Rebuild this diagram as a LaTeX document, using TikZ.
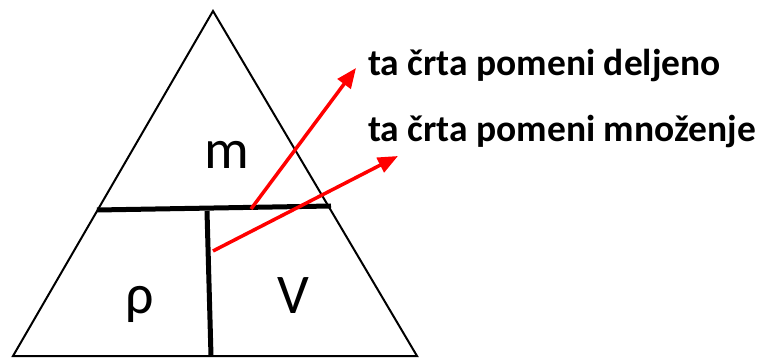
\documentclass[tikz,border=0pt]{standalone}
\usepackage{fontspec}
\setmainfont{Carlito}
\usetikzlibrary{arrows.meta}
\tikzset{
  tri/.style={line width=2pt, line join=miter},
  divider/.style={line width=5pt},
  pointer/.style={draw=red, line width=3.5pt, -{Triangle[length=20pt,width=16pt]}},
  sym/.style={font=\fontsize{56}{60}\selectfont, inner sep=0pt},
  note/.style={font=\fontsize{37.5}{42}\selectfont\bfseries, inner sep=0pt, anchor=base west}
}
\begin{document}
\begin{tikzpicture}[x=1pt,y=-1pt]
\useasboundingbox (0,0) rectangle (761,358);
\coordinate (top) at (213,11);
\coordinate (bl) at (13,356);
\coordinate (br) at (417,356);
\draw[tri] (top) -- (br) -- (bl) -- cycle;
\coordinate (hl) at (97,210);
\coordinate (hr) at (331,206);
\draw[divider] (hl) -- (hr);
\coordinate (vt) at (207,211);
\coordinate (vb) at (211,356);
\draw[divider] (vt) -- (vb);
\node[sym, anchor=base] (m) at (227,169) {m};
\node[sym, anchor=base] (rho) at (140,314) {ρ};
\node[sym, anchor=base] (V) at (293,314) {V};
\node[note] (t1) at (368,76) {ta črta pomeni deljeno};
\node[note] (t2) at (368,142) {ta črta pomeni množenje};
\coordinate (a1s) at (251,209);
\coordinate (a1e) at (356,68);
\coordinate (a2s) at (213,251);
\coordinate (a2e) at (398,156);
\draw[pointer] (a1s) -- (a1e);
\draw[pointer] (a2s) -- (a2e);
\end{tikzpicture}
\end{document}
